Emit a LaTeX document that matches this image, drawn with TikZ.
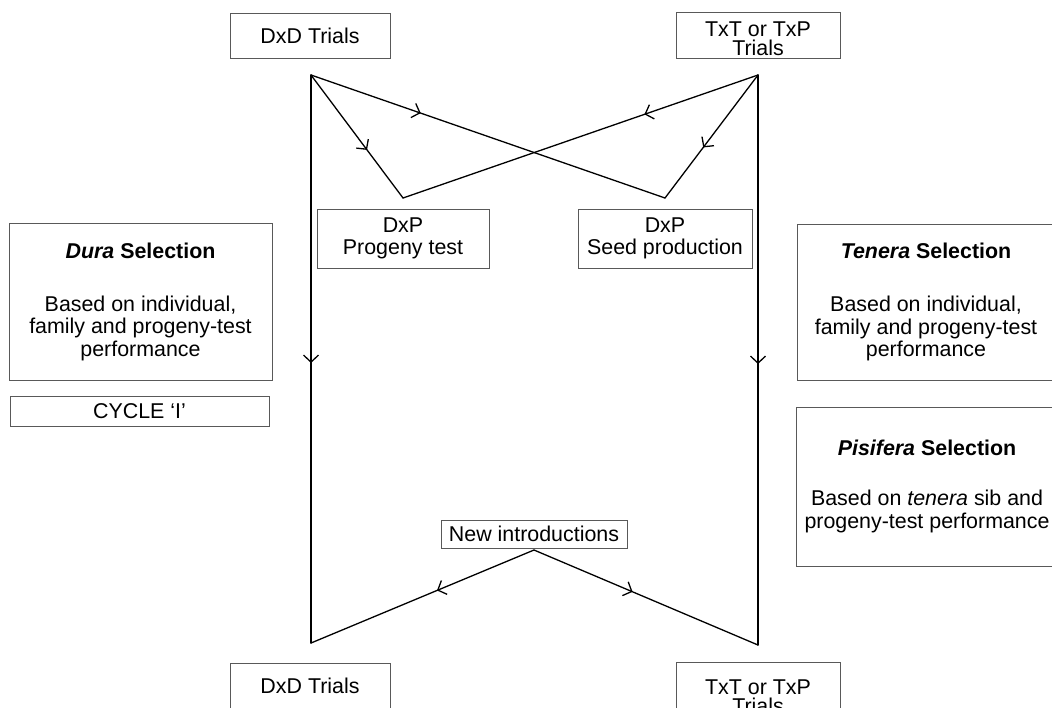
\documentclass[tikz,border=0pt]{standalone}
\usepackage{fontspec}
\setmainfont{Liberation Sans}
\usepackage{tikz}
\usetikzlibrary{arrows.meta}
\usetikzlibrary{decorations.markings}
\tikzstyle{box} = [draw=black!65, line width=0.5pt, fill=white, inner sep=0pt, align=center]
\tikzset{flow/.style={draw, line width=0.65pt, line cap=round, postaction={decorate},
	decoration={markings, mark=at position #1 with {\arrow{Straight Barb[length=3.5pt,width=7.5pt]}}}}}
\newcommand{\topstrut}{\rule{0pt}{11pt}}

\begin{document}
\begin{tikzpicture}[x=0.5pt, y=-0.5pt]
	\tikzstyle{every node}=[font=\fontsize{10.7}{11.25}\selectfont]
	\useasboundingbox (0,0) rectangle (1052,707);
	\clip (0,0) rectangle (1052,707);

	% ------------------- Corner points of the cycle ------------------- %
	\coordinate (ltop) at (311,75);
	\coordinate (rtop) at (758,75);
	\coordinate (lbot) at (311,643);
	\coordinate (rbot) at (758,645);
	\coordinate (lvee) at (403,198);
	\coordinate (rvee) at (665,198);
	\coordinate (apex) at (534,550);

	% ------------------- Flow lines ------------------- %
	\draw[flow=0.507] (ltop) -- (lbot);
	\draw[flow=0.507] (rtop) -- (rbot);
	\draw[flow=0.61] (ltop) -- (lvee);
	\draw[flow=0.31] (ltop) -- (rvee);
	\draw[flow=0.32] (rtop) -- (lvee);
	\draw[flow=0.59] (rtop) -- (rvee);
	\draw[flow=0.435] (apex) -- (lbot);
	\draw[flow=0.44] (apex) -- (rbot);

	% ------------------- Trials ------------------- %
	\node[box, minimum width=80pt, minimum height=22.5pt] (dxdtop) at (310,35.5) {DxD Trials};
	\node[box, minimum width=82pt, minimum height=23pt, font=\fontsize{10.7}{9.5}\selectfont] (txttop) at (758,35) {\topstrut TxT or TxP\\Trials};
	\node[box, minimum width=80pt, minimum height=22.5pt] (dxdbot) at (310,685.5) {DxD Trials};
	\node[box, minimum width=82pt, minimum height=35pt, font=\fontsize{10.7}{9.5}\selectfont] (txtbot) at (758,697) {TxT or TxP\\Trials};

	% ------------------- DxP crosses ------------------- %
	\node[box, minimum width=86pt, minimum height=29.5pt] (progeny) at (403,238.5) {DxP\\Progeny test};
	\node[box, minimum width=87pt, minimum height=29.5pt] (seed) at (665,238.5) {DxP\\Seed production};
	\node[box, minimum width=93pt, minimum height=14pt] (newintro) at (534,534) {New introductions};

	% ------------------- Selection boxes ------------------- %
	\node[box, minimum width=131.5pt, minimum height=78.5pt] (dura) at (140.5,301.5)
		{\textbf{\textit{Dura} Selection}\\[15.25pt]Based on individual,\\family and progeny-test\\performance};
	\node[box, minimum width=129.5pt, minimum height=15pt] (cycle) at (139.5,411) {CYCLE ‘I’};
	\node[box, minimum width=129pt, minimum height=78pt] (tenera) at (926,302)
		{\textbf{\textit{Tenera} Selection}\\[15.25pt]Based on individual,\\family and progeny-test\\performance};
	\node[box, minimum width=131pt, minimum height=79.5pt] (pisifera) at (927,486.5)
		{\textbf{\textit{Pisifera} Selection}\\[13.75pt]Based on \textit{tenera} sib and\\progeny-test performance};

\end{tikzpicture}
\end{document}
